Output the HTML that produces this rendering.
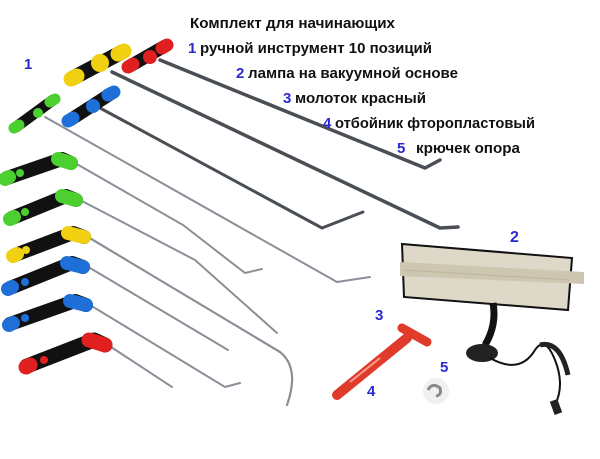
<!DOCTYPE html>
<html><head><meta charset="utf-8"><style>
html,body{margin:0;padding:0;background:#fff;width:600px;height:459px;overflow:hidden}
svg{display:block}
.t{font-family:"Liberation Sans Narrow","Liberation Sans",sans-serif;font-weight:bold;font-size:15px;fill:#111}
.n{font-family:"Liberation Sans",sans-serif;font-weight:bold;fill:#2a2ad0}
</style></head><body>
<svg width="600" height="459" viewBox="0 0 600 459" xmlns="http://www.w3.org/2000/svg">
<g stroke-linecap="round" stroke-linejoin="round" fill="none">
<path d="M160 60 L425 168 L440 160" stroke="#4a4f55" stroke-width="3.5"/>
<path d="M112 72 L440 228 L458 227" stroke="#4a4f55" stroke-width="3.5"/>
<path d="M100 108 L322 228 L363 212" stroke="#4a4f55" stroke-width="3"/>
<path d="M45 117 L337 282 L370 277" stroke="#8a9097" stroke-width="2"/>
<path d="M75 163 L183 225 L245 273 L262 269" stroke="#8a9097" stroke-width="2"/>
<path d="M80 200 L195 260 L277 333" stroke="#8a9097" stroke-width="2"/>
<path d="M88 237 L280 352 Q300 368 287 405" stroke="#8a9097" stroke-width="2.2"/>
<path d="M85 265 L228 350" stroke="#8a9097" stroke-width="2"/>
<path d="M90 305 L225 387 L240 383" stroke="#8a9097" stroke-width="2"/>
<path d="M108 345 L172 387" stroke="#8a9097" stroke-width="2"/>
</g>
<g stroke-linecap="round" fill="none">
<path d="M130 66 L165 46" stroke="#111" stroke-width="13"/><path d="M128 67 L133 64 M162 48 L167 45" stroke="#e02020" stroke-width="13"/><circle cx="150" cy="57" r="7" fill="#e02020"/>
<path d="M73 78 L122 52" stroke="#111" stroke-width="15"/><path d="M71 79 L77 76 M118 54 L124 51" stroke="#f0d010" stroke-width="15"/><circle cx="100" cy="63" r="9" fill="#f0d010"/>
<path d="M70 120 L112 93" stroke="#111" stroke-width="13"/><path d="M68 121 L73 118 M108 95 L114 92" stroke="#1e6fd8" stroke-width="13"/><circle cx="93" cy="106" r="7" fill="#1e6fd8"/>
<path d="M16 127 L53 100" stroke="#111" stroke-width="11"/><path d="M14 128 L19 125 M50 102 L55 99" stroke="#4cd030" stroke-width="11"/><circle cx="38" cy="113" r="5" fill="#4cd030"/>
</g>
<g stroke-linejoin="round" stroke-linecap="round" fill="none">
<path d="M7 178 L62 159 L71 163" stroke="#111" stroke-width="14"/><path d="M58 159 L71 163" stroke="#4cd030" stroke-width="14"/><path d="M5 179 L9 177" stroke="#4cd030" stroke-width="14"/><circle cx="20" cy="173" r="4" fill="#4cd030"/>
<path d="M12 218 L66 196 L76 200" stroke="#111" stroke-width="14"/><path d="M62 196 L76 200" stroke="#4cd030" stroke-width="14"/><path d="M10 219 L14 217" stroke="#4cd030" stroke-width="14"/><circle cx="25" cy="212" r="4" fill="#4cd030"/>
<path d="M15 255 L73 233 L84 237" stroke="#111" stroke-width="14"/><path d="M68 233 L84 237" stroke="#f0d010" stroke-width="14"/><path d="M13 256 L17 254" stroke="#f0d010" stroke-width="14"/><circle cx="26" cy="250" r="4" fill="#f0d010"/>
<path d="M10 288 L72 263 L83 267" stroke="#111" stroke-width="14"/><path d="M67 263 L83 267" stroke="#1e6fd8" stroke-width="14"/><path d="M8 289 L12 287" stroke="#1e6fd8" stroke-width="14"/><circle cx="25" cy="282" r="4" fill="#1e6fd8"/>
<path d="M10 324 L75 301 L86 305" stroke="#111" stroke-width="14"/><path d="M70 301 L86 305" stroke="#1e6fd8" stroke-width="14"/><path d="M9 325 L13 323" stroke="#1e6fd8" stroke-width="14"/><circle cx="25" cy="318" r="4" fill="#1e6fd8"/>
<path d="M27 366 L94 340 L105 345" stroke="#111" stroke-width="15"/><path d="M89 340 L105 345" stroke="#e02020" stroke-width="15"/><path d="M26 367 L30 365" stroke="#e02020" stroke-width="15"/><circle cx="44" cy="360" r="4" fill="#e02020"/>
</g>
<!-- lamp -->
<path d="M402 244 L572 258 L568 310 L404 297 Z" fill="#ddd8c8" stroke="#111" stroke-width="2"/>
<path d="M400 262 L584 272 L584 284 L400 276 Z" fill="#cdc6b0"/>
<path d="M404 270 L570 280" stroke="#bdb59e" stroke-width="1"/>
<path d="M493 303 Q497 325 485 345" stroke="#111" stroke-width="7" fill="none"/>
<ellipse cx="482" cy="353" rx="16" ry="9" fill="#222"/>
<path d="M490 358 Q520 375 535 350 Q545 335 555 360 Q565 385 555 405" stroke="#111" stroke-width="2" fill="none"/>
<path d="M540 345 Q560 340 568 375" stroke="#222" stroke-width="5" fill="none"/>
<rect x="552" y="400" width="8" height="14" fill="#222" transform="rotate(-20 556 407)"/>
<!-- hammer -->
<path d="M337 395 L407 338" stroke="#e03a2a" stroke-width="10" stroke-linecap="round"/>
<path d="M402 328 L427 342" stroke="#e03a2a" stroke-width="9" stroke-linecap="round"/>
<path d="M350 382 L380 358" stroke="#f5a090" stroke-width="2"/>
<!-- hook 5 -->
<circle cx="436" cy="391" r="13" fill="#eef0f2"/>
<path d="M428 390 Q432 382 440 388 Q442 395 436 396" stroke="#888" stroke-width="3" fill="none"/>
<text class="n" x="24" y="69" font-size="15">1</text>
<text class="n" x="510" y="242" font-size="16">2</text>
<text class="n" x="375" y="320" font-size="15">3</text>
<text class="n" x="367" y="396" font-size="15">4</text>
<text class="n" x="440" y="372" font-size="15">5</text>
<text class="t" x="190" y="28" textLength="205" lengthAdjust="spacingAndGlyphs">Комплект для начинающих</text>
<text class="t" x="188" y="53"><tspan class="n">1</tspan></text><text class="t" x="200" y="53" textLength="232" lengthAdjust="spacingAndGlyphs">ручной инструмент 10 позиций</text>
<text class="t" x="236" y="78"><tspan class="n">2</tspan></text><text class="t" x="248" y="78" textLength="210" lengthAdjust="spacingAndGlyphs">лампа на вакуумной основе</text>
<text class="t" x="283" y="103"><tspan class="n">3</tspan></text><text class="t" x="295" y="103" textLength="131" lengthAdjust="spacingAndGlyphs">молоток красный</text>
<text class="t" x="323" y="128"><tspan class="n">4</tspan></text><text class="t" x="335" y="128" textLength="200" lengthAdjust="spacingAndGlyphs">отбойник фторопластовый</text>
<text class="t" x="397" y="153"><tspan class="n">5</tspan></text><text class="t" x="416" y="153" textLength="104" lengthAdjust="spacingAndGlyphs">крючек опора</text>
</svg>
</body></html>
